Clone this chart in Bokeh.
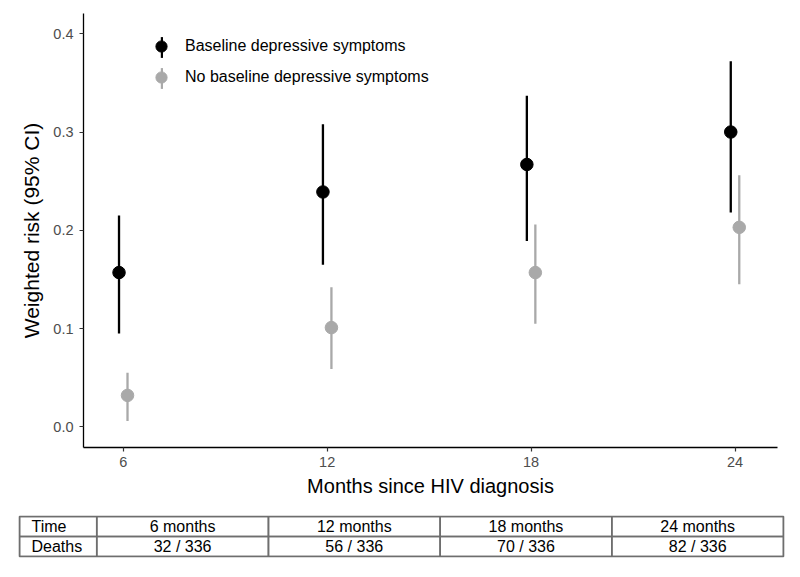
from bokeh.plotting import figure
from bokeh.models import (ColumnDataSource, Range1d, FixedTicker, NumeralTickFormatter,
                          Legend, LegendItem)
from bokeh.layouts import column
from bokeh.embed import file_html
from bokeh.resources import INLINE
from bokeh.core.properties import value

# ---------------- data ----------------
months = [6, 12, 18, 24]
groups = ["Baseline depressive symptoms", "No baseline depressive symptoms"]
dep_risk = [0.157, 0.239, 0.267, 0.300]
dep_lower = [0.095, 0.165, 0.189, 0.218]
dep_upper = [0.215, 0.308, 0.337, 0.372]
nodep_risk = [0.032, 0.101, 0.157, 0.203]
nodep_lower = [0.006, 0.059, 0.105, 0.145]
nodep_upper = [0.055, 0.142, 0.206, 0.256]
y_ticks = [0.0, 0.1, 0.2, 0.3, 0.4]
x_ticks = [6, 12, 18, 24]
table_row_labels = ["Time", "Deaths"]
table_time = ["6 months", "12 months", "18 months", "24 months"]
table_deaths = ["32 / 336", "56 / 336", "70 / 336", "82 / 336"]

# ---------------- style ----------------
DODGE = 0.125
BAR_W = 0.068          # error-bar thickness in data units (~2.3 px)
colors = ["#000000", "#A9A9A9"]
FONT = "Liberation Sans"

p = figure(width=800, height=508,
           x_range=Range1d(4.83, 25.25), y_range=Range1d(-0.021, 0.4206),
           output_backend="svg", toolbar_location=None,
           min_border_left=83, min_border_right=23, min_border_top=13, min_border_bottom=61)
p.frame_align = False
p.grid.visible = False
p.outline_line_color = None
p.background_fill_color = "white"
p.border_fill_color = "white"

series = [
    (dep_risk, dep_lower, dep_upper, -DODGE),
    (nodep_risk, nodep_lower, nodep_upper, DODGE),
]
bar_r, dot_r = [], []
for (risk, lo, hi, off), c in zip(series, colors):
    src = ColumnDataSource(dict(x=[m + off for m in months], y=risk, lo=lo, hi=hi))
    b = p.vbar(x="x", bottom="lo", top="hi", width=BAR_W, source=src,
               fill_color=c, line_color=None)
    s = p.scatter(x="x", y="y", source=src, marker="circle", size=12.5,
                  fill_color=c, line_color=c)
    bar_r.append(b)
    dot_r.append(s)

# axes
for ax in (p.xaxis[0], p.yaxis[0]):
    ax.axis_line_color = "black"
    ax.axis_line_width = 1.3
    ax.major_tick_line_color = "#333333"
    ax.major_tick_line_width = 1.2
    ax.major_tick_out = 4
    ax.major_tick_in = 0
    ax.minor_tick_line_color = None
    ax.major_label_text_font = FONT
    ax.major_label_text_font_size = "14.5px"
    ax.major_label_text_color = "#4D4D4D"
    ax.axis_label_text_font = FONT
    ax.axis_label_text_font_style = "normal"
    ax.axis_label_text_color = "black"

p.xaxis.ticker = FixedTicker(ticks=x_ticks)
p.yaxis.ticker = FixedTicker(ticks=y_ticks)
p.yaxis.formatter = NumeralTickFormatter(format="0.0")
p.xaxis.axis_label = "Months since HIV diagnosis"
p.yaxis.axis_label = "Weighted risk (95% CI)"
p.xaxis.axis_label_text_font_size = "20px"
p.yaxis.axis_label_text_font_size = "21px"
p.xaxis.major_label_standoff = 5
p.xaxis.axis_label_standoff = 5
p.yaxis.major_label_standoff = 6
p.yaxis.axis_label_standoff = 7

# legend: thin vertical bars (own glyph box) under the dots
leg_bars = Legend(
    items=[LegendItem(label=value(" "), renderers=[bar_r[0]]),
           LegendItem(label=value(" "), renderers=[bar_r[1]])],
    location=(76.5, 356), glyph_width=3, glyph_height=26, spacing=5,
    padding=0, margin=0, background_fill_alpha=0, border_line_alpha=0,
    label_text_font_size="8px", label_standoff=0)
leg_dots = Legend(
    items=[LegendItem(label=value(groups[0]), renderers=[dot_r[0]]),
           LegendItem(label=value(groups[1]), renderers=[dot_r[1]])],
    location=(64, 356), glyph_width=28, glyph_height=28, spacing=3,
    padding=0, margin=0, background_fill_alpha=0, border_line_alpha=0,
    label_standoff=10, label_text_font=FONT, label_text_font_size="16px",
    label_text_color="black")
p.add_layout(leg_bars)
p.add_layout(leg_dots)

# ---------------- table ----------------
col_w = [0.9, 2, 2, 2, 2]
edges = [0.0]
for w in col_w:
    edges.append(edges[-1] + w)
TCOL = "#6e6e6e"

t = figure(width=800, height=62, x_range=Range1d(0, edges[-1]), y_range=Range1d(0, 2),
           output_backend="svg", toolbar_location=None,
           x_axis_location=None, y_axis_location=None,
           min_border_left=19, min_border_right=17, min_border_top=8, min_border_bottom=14)
t.frame_align = False
t.grid.visible = False
t.outline_line_color = TCOL
t.outline_line_width = 1.6
t.background_fill_color = "white"
t.border_fill_color = "white"

cell_l, cell_r, cell_b, cell_t = [], [], [], []
for row in range(2):
    for i in range(len(col_w)):
        cell_l.append(edges[i]); cell_r.append(edges[i + 1])
        cell_b.append(1 - row); cell_t.append(2 - row)
t.quad(left=cell_l, right=cell_r, bottom=cell_b, top=cell_t,
       fill_color=None, line_color=TCOL, line_width=1.6)

t.text(x=[edges[0], edges[0]], y=[1.5, 0.5], text=table_row_labels,
       x_offset=12, text_align="left", text_baseline="middle",
       text_font=value(FONT), text_font_size="16px", text_color="black")
centers = [(edges[i] + edges[i + 1]) / 2 for i in range(1, len(col_w))]
t.text(x=centers, y=[1.5] * 4, text=table_time, text_align="center",
       text_baseline="middle", text_font=value(FONT), text_font_size="16px",
       text_color="black")
t.text(x=centers, y=[0.5] * 4, text=table_deaths, text_align="center",
       text_baseline="middle", text_font=value(FONT), text_font_size="16px",
       text_color="black")

layout = column(p, t, spacing=0)
open("out.html", "w").write(file_html(layout, INLINE))
